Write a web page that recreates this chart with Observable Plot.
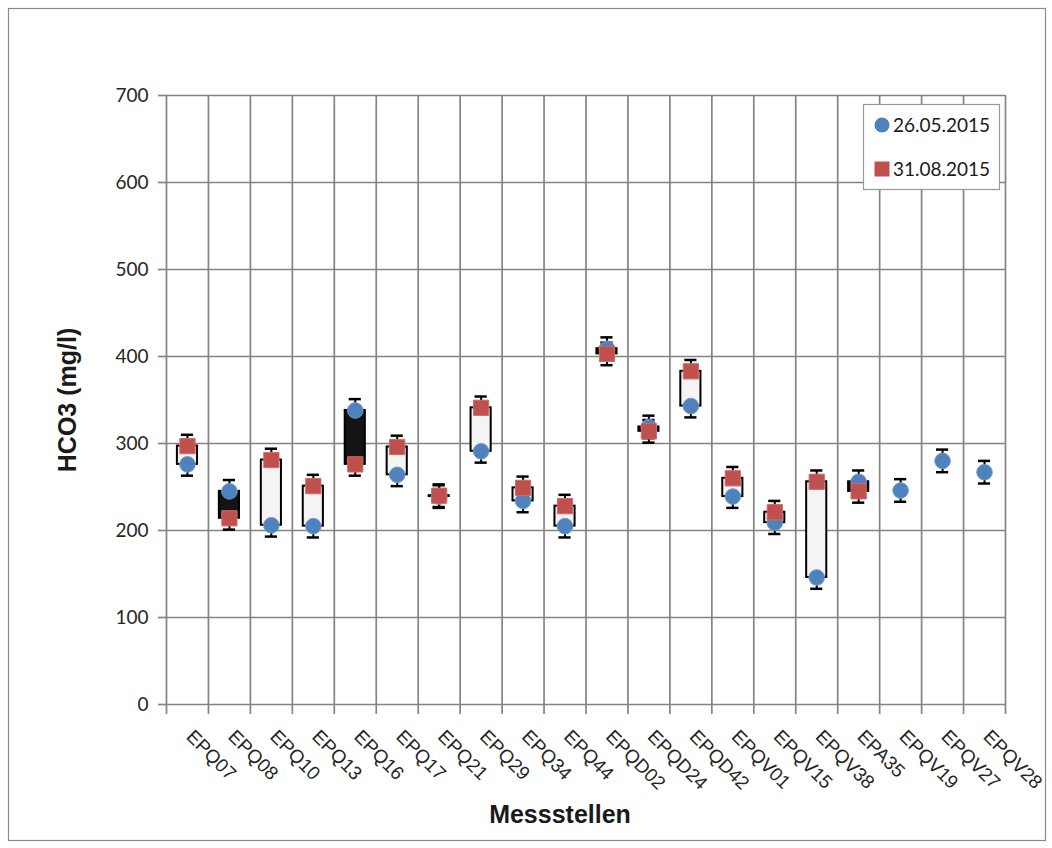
<!DOCTYPE html>
<html>
<head>
<meta charset="utf-8">
<script src="https://cdn.jsdelivr.net/npm/d3@7"></script>
<script src="https://cdn.jsdelivr.net/npm/@observablehq/plot@0.6"></script>
<style>
  html, body { margin: 0; padding: 0; background: #fff; }
  #chart { position: relative; width: 1052px; height: 848px; }
</style>
</head>
<body>
<div id="chart"></div>
<script>
// Messstellen (sampling stations)
const stations = ["EPQ07","EPQ08","EPQ10","EPQ13","EPQ16","EPQ17","EPQ21","EPQ29","EPQ34","EPQ44",
                  "EPQD02","EPQD24","EPQD42","EPQV01","EPQV15","EPQV38","EPA35","EPQV19","EPQV27","EPQV28"];
// HCO3 (mg/l) on 26.05.2015
const may2015 = [276, 245, 206, 205, 338, 264, 239, 291, 234, 205,
                 409, 319, 343, 239, 209, 146, 256, 246, 280, 267];
// HCO3 (mg/l) on 31.08.2015 (null = not sampled)
const aug2015 = [297, 214, 281, 251, 276, 296, 240, 341, 249, 228,
                 403, 314, 383, 260, 221, 256, 245, null, null, null];
const seriesLabels = ["26.05.2015", "31.08.2015"];
const yTicks = [0, 100, 200, 300, 400, 500, 600, 700];
const errorMargin = 13; // fixed error bar, mg/l

const n = stations.length;
const rows = stations.map((s, i) => ({station: s, pos: i + 0.5, may: may2015[i], aug: aug2015[i]}));
const mayPts = rows.map(r => ({pos: r.pos, value: r.may}));
const augPts = rows.filter(r => r.aug != null).map(r => ({pos: r.pos, value: r.aug}));
const allPts = mayPts.concat(augPts);
const pairs = rows.filter(r => r.aug != null);
const upBars = pairs.filter(r => r.aug >= r.may);
const downBars = pairs.filter(r => r.aug < r.may);

const gridColor = "#848484";
const blue = "#4f81bd", red = "#c0504d";
const barHalf = 0.24, capHalf = 0.145;

const W = 1052, H = 848, mL = 166, mR = 47, mT = 95, mB = 144;

const chart = Plot.plot({
  width: W, height: H,
  marginLeft: mL, marginRight: mR, marginTop: mT, marginBottom: mB,
  x: {type: "linear", domain: [0, n], axis: null},
  y: {domain: [0, 700], axis: null},
  style: {fontFamily: "Lato, 'Open Sans', sans-serif", background: "white", overflow: "visible"},
  marks: [
    Plot.gridY(yTicks, {stroke: gridColor, strokeOpacity: 1, strokeWidth: 1.7}),
    Plot.gridX(d3.range(n + 1), {stroke: gridColor, strokeOpacity: 1, strokeWidth: 1.7}),
    Plot.axisY(yTicks, {tickSize: 8, tickPadding: 10, stroke: gridColor, strokeWidth: 1.7,
      fontSize: 19, fill: "#262626", label: null}),
    Plot.axisX(d3.range(n + 1), {tickSize: 10, tickFormat: () => "", stroke: gridColor,
      strokeWidth: 1.7, label: null}),
    Plot.axisX(rows.map(r => r.pos), {tickSize: 0, tickPadding: 29, tickRotate: 45, dx: 2,
      tickFormat: v => stations[Math.floor(v)], textAnchor: "start",
      fontFamily: "'Liberation Sans', Arial, sans-serif", fontSize: 19, fill: "#262626", label: null}),
    // error bars
    Plot.ruleX(allPts, {x: "pos", y1: d => d.value - errorMargin, y2: d => d.value + errorMargin,
      stroke: "black", strokeWidth: 2}),
    Plot.ruleY(allPts, {y: d => d.value - errorMargin, x1: d => d.pos - capHalf, x2: d => d.pos + capHalf,
      stroke: "black", strokeWidth: 2.5}),
    Plot.ruleY(allPts, {y: d => d.value + errorMargin, x1: d => d.pos - capHalf, x2: d => d.pos + capHalf,
      stroke: "black", strokeWidth: 2.5}),
    // up / down bars between the two sampling dates
    Plot.rectY(upBars, {x1: d => d.pos - barHalf, x2: d => d.pos + barHalf, y1: "may", y2: "aug",
      fill: "#f4f4f4", stroke: "black", strokeWidth: 2}),
    Plot.rectY(downBars, {x1: d => d.pos - barHalf, x2: d => d.pos + barHalf, y1: "may", y2: "aug",
      fill: "#141414", stroke: "black", strokeWidth: 2}),
    // markers
    Plot.dot(mayPts, {x: "pos", y: "value", r: 7.8, symbol: "circle", fill: blue, stroke: "#6d9ad0", strokeWidth: 1}),
    Plot.dot(augPts, {x: "pos", y: "value", r: 8.6, symbol: "square", fill: red, stroke: "#d06b68", strokeWidth: 1})
  ]
});

const svg = d3.select(chart);

// outer chart border
svg.insert("rect", ":first-child")
  .attr("x", 8.5).attr("y", 8.5).attr("width", 1037).attr("height", 832)
  .attr("fill", "white").attr("stroke", "#8a8a8a").attr("stroke-width", 1.2);

// axis titles
svg.append("text")
  .attr("transform", "translate(76,400) rotate(-90)")
  .attr("text-anchor", "middle")
  .attr("font-family", "'Liberation Sans', Arial, sans-serif")
  .attr("font-weight", "bold").attr("font-size", 25).attr("fill", "#1a1a1a")
  .text("HCO3 (mg/l)");
svg.append("text")
  .attr("x", 560).attr("y", 823)
  .attr("text-anchor", "middle")
  .attr("font-family", "'Liberation Sans', Arial, sans-serif")
  .attr("font-weight", "bold").attr("font-size", 25).attr("fill", "#1a1a1a")
  .text("Messstellen");

// legend box
const lg = svg.append("g").attr("font-family", "Lato, 'Open Sans', sans-serif").attr("font-size", 19)
  .attr("text-anchor", "start");
lg.append("rect").attr("x", 863.5).attr("y", 104.5).attr("width", 136).attr("height", 85)
  .attr("fill", "white").attr("stroke", "#9a9a9a").attr("stroke-width", 1.2);
lg.append("circle").attr("cx", 882).attr("cy", 125).attr("r", 7.5).attr("fill", blue);
lg.append("rect").attr("x", 874.5).attr("y", 161.5).attr("width", 15).attr("height", 15).attr("fill", red);
lg.append("text").attr("x", 893).attr("y", 125).attr("dy", "0.35em").attr("text-anchor", "start")
  .attr("fill", "#1a1a1a").text(seriesLabels[0]);
lg.append("text").attr("x", 893).attr("y", 169).attr("dy", "0.35em").attr("text-anchor", "start")
  .attr("fill", "#1a1a1a").text(seriesLabels[1]);

document.getElementById("chart").appendChild(chart);
</script>
</body>
</html>
